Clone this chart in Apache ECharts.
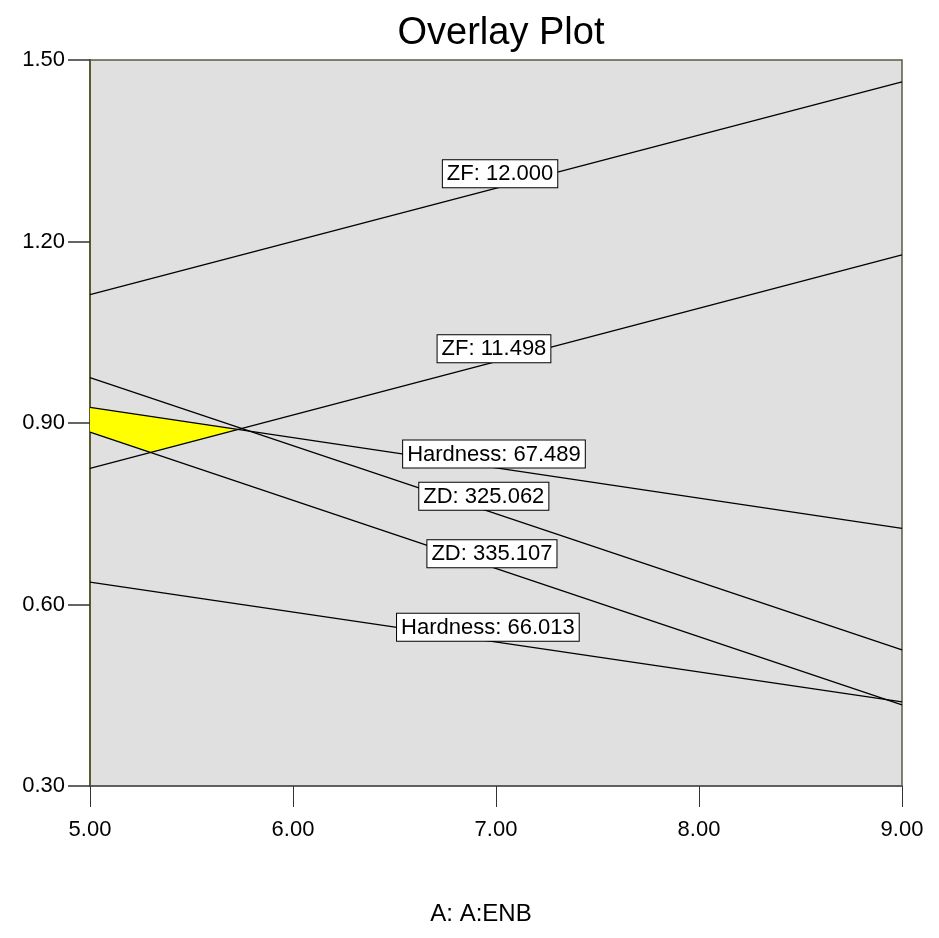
<!DOCTYPE html>
<html>
<head>
<meta charset="utf-8">
<script src="https://cdn.jsdelivr.net/npm/echarts@6/dist/echarts.min.js"></script>
<style>html,body{margin:0;padding:0;background:#fff}#c{width:939px;height:938px}</style>
</head>
<body>
<div id="c"></div>
<script>
// ---- data ----
const contourNames = ['ZF: 12.000', 'ZF: 11.498', 'Hardness: 67.489', 'ZD: 325.062', 'ZD: 335.107', 'Hardness: 66.013'];
const xEnds = [5, 9];
const yAtLeft = [1.112, 0.825, 0.926, 0.975, 0.885, 0.637];
const yAtRight = [1.464, 1.178, 0.726, 0.525, 0.434, 0.439];
const labelX = [7.02, 6.99, 6.99, 6.94, 6.98, 6.96];
const xTicks = [5, 6, 7, 8, 9];
const yTicks = [0.3, 0.6, 0.9, 1.2, 1.5];
// feasible (yellow) region: between x=5 and lines index 2 (top), 4 (lower-left), 1 (lower-right)
const regionTop = 2, regionLowLeft = 4, regionLowRight = 1;

const FONT = "'Liberation Sans', Arial, sans-serif";

function lineAt(i, x) {
  const t = (x - xEnds[0]) / (xEnds[1] - xEnds[0]);
  return yAtLeft[i] + t * (yAtRight[i] - yAtLeft[i]);
}
function intersect(i, j) {
  const si = (yAtRight[i] - yAtLeft[i]) / (xEnds[1] - xEnds[0]);
  const sj = (yAtRight[j] - yAtLeft[j]) / (xEnds[1] - xEnds[0]);
  const d = (yAtLeft[j] - yAtLeft[i]) / (si - sj);
  const x = xEnds[0] + d;
  return [x, lineAt(i, x)];
}
const regionPts = [
  [xEnds[0], yAtLeft[regionTop]],
  intersect(regionTop, regionLowRight),
  intersect(regionLowLeft, regionLowRight),
  [xEnds[0], yAtLeft[regionLowLeft]]
];

const chart = echarts.init(document.getElementById('c'), null, {renderer: 'canvas'});

const series = [];
series.push({
  type: 'custom',
  name: 'region',
  z: 1,
  data: [0],
  renderItem: function (params, api) {
    return {
      type: 'polygon',
      shape: {points: regionPts.map(p => api.coord(p))},
      style: {fill: '#ffff00', stroke: null}
    };
  }
});
contourNames.forEach((n, i) => {
  series.push({
    type: 'line',
    name: n,
    z: 3,
    symbol: 'none',
    silent: true,
    lineStyle: {color: '#000', width: 1.3},
    data: [[xEnds[0], yAtLeft[i]], [xEnds[1], yAtRight[i]]]
  });
});
series.push({
  type: 'scatter',
  name: 'labels',
  z: 5,
  symbolSize: 0,
  silent: true,
  clip: false,
  itemStyle: {opacity: 1},
  data: contourNames.map((n, i) => [labelX[i], lineAt(i, labelX[i]), n]),
  label: {
    show: true,
    position: 'top',
    distance: 0,
    formatter: p => p.value[2],
    fontFamily: FONT,
    fontSize: 22,
    lineHeight: 22,
    color: '#000',
    opacity: 1,
    backgroundColor: '#fff',
    borderColor: '#000',
    borderWidth: 1,
    padding: [3, 4, 2, 4]
  }
});

chart.setOption({
  animation: false,
  backgroundColor: '#fff',
  title: {
    text: 'Overlay Plot',
    left: 496,
    textAlign: 'center',
    top: 10,
    textStyle: {fontFamily: FONT, fontSize: 38, fontWeight: 'normal', color: '#000'}
  },
  grid: {
    left: 90, right: 37, top: 60, bottom: 152,
    show: true,
    backgroundColor: '#e0e0e0',
    borderColor: '#5a5a48',
    borderWidth: 1.5
  },
  xAxis: {
    type: 'value',
    min: xTicks[0], max: xTicks[xTicks.length - 1], interval: 1,
    name: 'A: A:ENB',
    nameLocation: 'middle',
    nameGap: 116,
    nameTextStyle: {fontFamily: FONT, fontSize: 24, color: '#000', padding: [0, 30, 0, 0]},
    axisLine: {show: true, onZero: false, lineStyle: {color: '#555', width: 1.5}},
    axisTick: {show: true, inside: false, length: 21, lineStyle: {color: '#333', width: 1}},
    axisLabel: {margin: 33, fontFamily: FONT, fontSize: 22, color: '#000', formatter: v => v.toFixed(2)},
    splitLine: {show: false}
  },
  yAxis: {
    type: 'value',
    min: yTicks[0], max: yTicks[yTicks.length - 1], interval: 0.3,
    axisLine: {show: true, onZero: false, lineStyle: {color: '#5b5a2e', width: 2}},
    axisTick: {show: true, inside: false, length: 22, lineStyle: {color: '#333', width: 1.5}},
    axisLabel: {margin: 25, fontFamily: FONT, fontSize: 22, color: '#000', formatter: v => v.toFixed(2)},
    splitLine: {show: false}
  },
  series: series
});
</script>
</body>
</html>
